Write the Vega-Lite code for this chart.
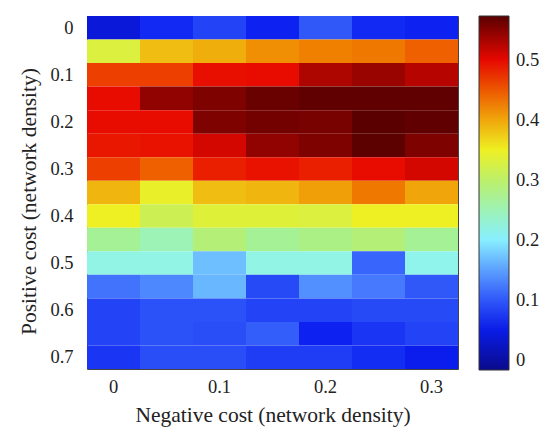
{
  "$schema": "https://vega.github.io/schema/vega-lite/v6.json",
  "width": 371,
  "height": 353,
  "autosize": "none",
  "padding": {"left": 87, "top": 16, "right": 100, "bottom": 75},
  "background": "white",
  "config": {
    "view": {"stroke": "#444", "strokeWidth": 1},
    "font": "Liberation Serif"
  },
  "data": {
    "values": [
      {"neg": 0, "pos": 0, "v": 0.04}, {"neg": 0.05, "pos": 0, "v": 0.065}, {"neg": 0.1, "pos": 0, "v": 0.085}, {"neg": 0.15, "pos": 0, "v": 0.06}, {"neg": 0.2, "pos": 0, "v": 0.1}, {"neg": 0.25, "pos": 0, "v": 0.065}, {"neg": 0.3, "pos": 0, "v": 0.06},
      {"neg": 0, "pos": 0.05, "v": 0.33}, {"neg": 0.05, "pos": 0.05, "v": 0.385}, {"neg": 0.1, "pos": 0.05, "v": 0.395}, {"neg": 0.15, "pos": 0.05, "v": 0.415}, {"neg": 0.2, "pos": 0.05, "v": 0.425}, {"neg": 0.25, "pos": 0.05, "v": 0.43}, {"neg": 0.3, "pos": 0.05, "v": 0.445},
      {"neg": 0, "pos": 0.1, "v": 0.465}, {"neg": 0.05, "pos": 0.1, "v": 0.465}, {"neg": 0.1, "pos": 0.1, "v": 0.495}, {"neg": 0.15, "pos": 0.1, "v": 0.497}, {"neg": 0.2, "pos": 0.1, "v": 0.53}, {"neg": 0.25, "pos": 0.1, "v": 0.54}, {"neg": 0.3, "pos": 0.1, "v": 0.525},
      {"neg": 0, "pos": 0.15, "v": 0.497}, {"neg": 0.05, "pos": 0.15, "v": 0.545}, {"neg": 0.1, "pos": 0.15, "v": 0.555}, {"neg": 0.15, "pos": 0.15, "v": 0.565}, {"neg": 0.2, "pos": 0.15, "v": 0.57}, {"neg": 0.25, "pos": 0.15, "v": 0.57}, {"neg": 0.3, "pos": 0.15, "v": 0.57},
      {"neg": 0, "pos": 0.2, "v": 0.497}, {"neg": 0.05, "pos": 0.2, "v": 0.497}, {"neg": 0.1, "pos": 0.2, "v": 0.555}, {"neg": 0.15, "pos": 0.2, "v": 0.56}, {"neg": 0.2, "pos": 0.2, "v": 0.558}, {"neg": 0.25, "pos": 0.2, "v": 0.573}, {"neg": 0.3, "pos": 0.2, "v": 0.57},
      {"neg": 0, "pos": 0.25, "v": 0.49}, {"neg": 0.05, "pos": 0.25, "v": 0.493}, {"neg": 0.1, "pos": 0.25, "v": 0.51}, {"neg": 0.15, "pos": 0.25, "v": 0.545}, {"neg": 0.2, "pos": 0.25, "v": 0.555}, {"neg": 0.25, "pos": 0.25, "v": 0.572}, {"neg": 0.3, "pos": 0.25, "v": 0.555},
      {"neg": 0, "pos": 0.3, "v": 0.465}, {"neg": 0.05, "pos": 0.3, "v": 0.445}, {"neg": 0.1, "pos": 0.3, "v": 0.485}, {"neg": 0.15, "pos": 0.3, "v": 0.493}, {"neg": 0.2, "pos": 0.3, "v": 0.485}, {"neg": 0.25, "pos": 0.3, "v": 0.497}, {"neg": 0.3, "pos": 0.3, "v": 0.51},
      {"neg": 0, "pos": 0.35, "v": 0.39}, {"neg": 0.05, "pos": 0.35, "v": 0.345}, {"neg": 0.1, "pos": 0.35, "v": 0.385}, {"neg": 0.15, "pos": 0.35, "v": 0.39}, {"neg": 0.2, "pos": 0.35, "v": 0.405}, {"neg": 0.25, "pos": 0.35, "v": 0.43}, {"neg": 0.3, "pos": 0.35, "v": 0.4},
      {"neg": 0, "pos": 0.4, "v": 0.35}, {"neg": 0.05, "pos": 0.4, "v": 0.315}, {"neg": 0.1, "pos": 0.4, "v": 0.335}, {"neg": 0.15, "pos": 0.4, "v": 0.335}, {"neg": 0.2, "pos": 0.4, "v": 0.33}, {"neg": 0.25, "pos": 0.4, "v": 0.35}, {"neg": 0.3, "pos": 0.4, "v": 0.35},
      {"neg": 0, "pos": 0.45, "v": 0.27}, {"neg": 0.05, "pos": 0.45, "v": 0.25}, {"neg": 0.1, "pos": 0.45, "v": 0.29}, {"neg": 0.15, "pos": 0.45, "v": 0.27}, {"neg": 0.2, "pos": 0.45, "v": 0.28}, {"neg": 0.25, "pos": 0.45, "v": 0.29}, {"neg": 0.3, "pos": 0.45, "v": 0.27},
      {"neg": 0, "pos": 0.5, "v": 0.22}, {"neg": 0.05, "pos": 0.5, "v": 0.22}, {"neg": 0.1, "pos": 0.5, "v": 0.17}, {"neg": 0.15, "pos": 0.5, "v": 0.22}, {"neg": 0.2, "pos": 0.5, "v": 0.22}, {"neg": 0.25, "pos": 0.5, "v": 0.11}, {"neg": 0.3, "pos": 0.5, "v": 0.215},
      {"neg": 0, "pos": 0.55, "v": 0.12}, {"neg": 0.05, "pos": 0.55, "v": 0.135}, {"neg": 0.1, "pos": 0.55, "v": 0.165}, {"neg": 0.15, "pos": 0.55, "v": 0.09}, {"neg": 0.2, "pos": 0.55, "v": 0.14}, {"neg": 0.25, "pos": 0.55, "v": 0.125}, {"neg": 0.3, "pos": 0.55, "v": 0.1},
      {"neg": 0, "pos": 0.6, "v": 0.085}, {"neg": 0.05, "pos": 0.6, "v": 0.095}, {"neg": 0.1, "pos": 0.6, "v": 0.095}, {"neg": 0.15, "pos": 0.6, "v": 0.085}, {"neg": 0.2, "pos": 0.6, "v": 0.085}, {"neg": 0.25, "pos": 0.6, "v": 0.09}, {"neg": 0.3, "pos": 0.6, "v": 0.09},
      {"neg": 0, "pos": 0.65, "v": 0.085}, {"neg": 0.05, "pos": 0.65, "v": 0.095}, {"neg": 0.1, "pos": 0.65, "v": 0.092}, {"neg": 0.15, "pos": 0.65, "v": 0.105}, {"neg": 0.2, "pos": 0.65, "v": 0.06}, {"neg": 0.25, "pos": 0.65, "v": 0.075}, {"neg": 0.3, "pos": 0.65, "v": 0.085},
      {"neg": 0, "pos": 0.7, "v": 0.075}, {"neg": 0.05, "pos": 0.7, "v": 0.092}, {"neg": 0.1, "pos": 0.7, "v": 0.092}, {"neg": 0.15, "pos": 0.7, "v": 0.08}, {"neg": 0.2, "pos": 0.7, "v": 0.08}, {"neg": 0.25, "pos": 0.7, "v": 0.068}, {"neg": 0.3, "pos": 0.7, "v": 0.055}
    ]
  },
  "mark": {"type": "rect", "stroke": null},
  "encoding": {
    "x": {
      "field": "neg", "type": "ordinal",
      "scale": {"paddingInner": 0, "paddingOuter": 0},
      "axis": {
        "values": [0, 0.1, 0.2, 0.3],
        "labelAngle": 0, "ticks": false, "domain": false,
        "labelPadding": 8, "labelFontSize": 18.5, "labelColor": "#222", "labelFont": "Liberation Serif",
        "title": "Negative cost (network density)",
        "titleFont": "Liberation Serif", "titleFontSize": 21.5, "titleFontWeight": "normal", "titleColor": "#222",
        "titlePadding": 9
      }
    },
    "y": {
      "field": "pos", "type": "ordinal",
      "scale": {"paddingInner": 0, "paddingOuter": 0},
      "axis": {
        "values": [0, 0.1, 0.2, 0.3, 0.4, 0.5, 0.6, 0.7],
        "ticks": false, "domain": false,
        "labelPadding": 14, "labelFontSize": 18.5, "labelColor": "#222", "labelFont": "Liberation Serif",
        "title": "Positive cost (network density)",
        "titleFont": "Liberation Serif", "titleFontSize": 21.5, "titleFontWeight": "normal", "titleColor": "#222",
        "titlePadding": 9,
        "titleY": 185
      }
    },
    "color": {
      "field": "v", "type": "quantitative",
      "scale": {
        "interpolate": "rgb",
        "domain": [-0.017, 0.057, 0.13, 0.204, 0.278, 0.352, 0.425, 0.499, 0.573],
        "range": ["#0A0A8C", "#0A1EF0", "#4A80FF", "#8CF5FF", "#A8F088", "#F0F020", "#F08000", "#E80800", "#5A0000"]
      },
      "legend": {
        "title": null,
        "values": [0, 0.1, 0.2, 0.3, 0.4, 0.5],
        "format": "~g",
        "gradientLength": 354,
        "gradientThickness": 30,
        "gradientStrokeColor": "#333",
        "gradientStrokeWidth": 1,
        "labelFont": "Liberation Serif",
        "labelFontSize": 18.5,
        "labelColor": "#222",
        "labelOffset": 7,
        "offset": 21,
        "padding": 0
      }
    }
  }
}
